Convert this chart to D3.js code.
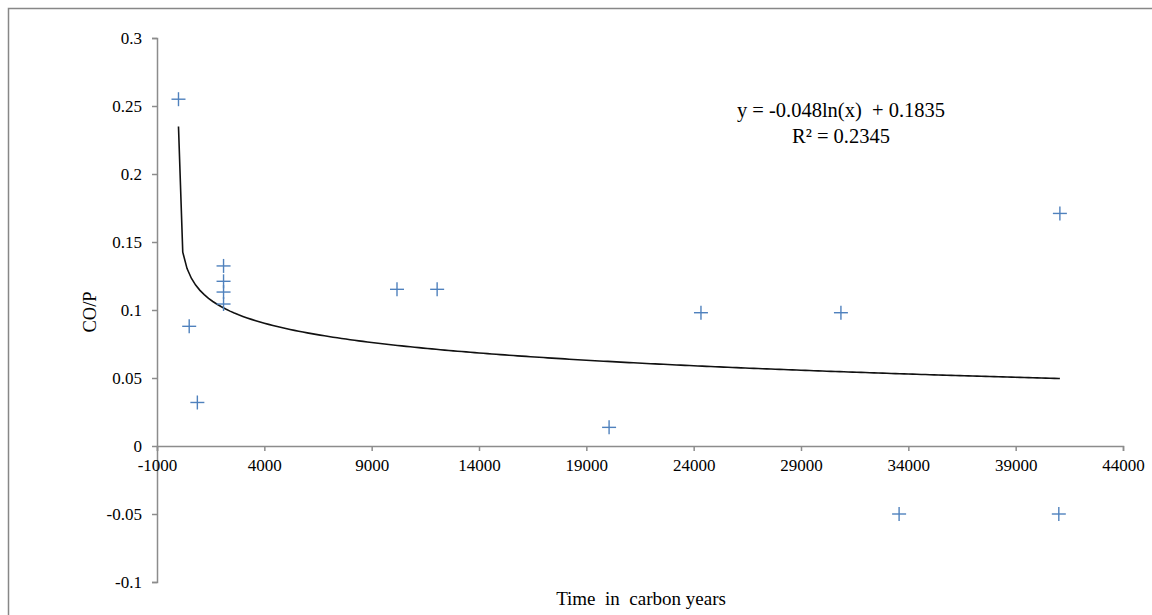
<!DOCTYPE html>
<html>
<head>
<meta charset="utf-8">
<script src="https://cdn.jsdelivr.net/npm/d3@7"></script>
<style>
  html, body { margin: 0; padding: 0; background: #fff; }
  svg { display: block; }
  text { font-family: "Liberation Serif", "Times New Roman", serif; fill: #000; }
</style>
</head>
<body>
<svg id="chart" width="1152" height="615"></svg>
<script>
// Sample ages (carbon years) and measured CO/P ratios
const ageYears = [1, 500, 880, 2100, 2100, 2100, 2100, 10180, 12050, 20060, 24340, 30860, 33570, 41060, 41010];
const coRatio  = [0.255, 0.088, 0.032, 0.1324, 0.1211, 0.1132, 0.1044, 0.1152, 0.1152, 0.0137, 0.098, 0.098, -0.05, 0.171, -0.05];

const xTicks = [-1000, 4000, 9000, 14000, 19000, 24000, 29000, 34000, 39000, 44000];
const yTicks = [0.3, 0.25, 0.2, 0.15, 0.1, 0.05, 0, -0.05, -0.1];

const equationLines = ["y = -0.048ln(x)  + 0.1835", "R\u00B2 = 0.2345"];
const xTitle = "Time  in  carbon years";
const yTitle = "CO/P";

const svg = d3.select("#chart");

// chart-area frame
svg.append("rect")
  .attr("x", 8.5).attr("y", 8.5)
  .attr("width", 1200).attr("height", 700)
  .attr("fill", "none")
  .attr("stroke", "#878787")
  .attr("stroke-width", 1.5);

const x = d3.scaleLinear().domain([-1000, 44000]).range([157, 1123]);
const y = d3.scaleLinear().domain([-0.1, 0.3]).range([582, 38]);

const axisColor = "#8c8c8c";

// y axis
const yAxis = svg.append("g")
  .attr("transform", `translate(${x(-1000)},0)`)
  .call(d3.axisLeft(y).tickValues(yTicks).tickSize(5).tickPadding(10)
        .tickFormat(d => String(+d.toFixed(2))));
yAxis.selectAll("text").attr("font-size", 17).attr("font-family", "Liberation Serif");

// x axis sits on y = 0
const xAxis = svg.append("g")
  .attr("transform", `translate(0,${y(0)})`)
  .call(d3.axisBottom(x).tickValues(xTicks).tickSize(5).tickPadding(8)
        .tickFormat(d => String(d)));
xAxis.selectAll("text").attr("font-size", 17).attr("font-family", "Liberation Serif");

[yAxis, xAxis].forEach(g => {
  g.select(".domain").attr("stroke", axisColor).attr("stroke-width", 1.5);
  g.selectAll(".tick line").attr("stroke", axisColor).attr("stroke-width", 1.5);
});

// logarithmic least-squares trendline through the samples
const lx = ageYears.map(v => Math.log(v));
const mx = d3.mean(lx), my = d3.mean(coRatio);
const sxy = d3.sum(lx, (v, i) => (v - mx) * (coRatio[i] - my));
const sxx = d3.sum(lx, v => (v - mx) * (v - mx));
const slope = sxy / sxx;
const intercept = my - slope * mx;

const xMin = d3.min(ageYears), xMax = d3.max(ageYears);
const logScale = d3.scaleLog().domain([xMin, xMax]);
const curvePts = logScale.ticks(200).filter(v => v >= xMin && v <= xMax);
curvePts.unshift(xMin);
curvePts.push(xMax);
const uniq = Array.from(new Set(curvePts)).sort((a, b) => a - b);

svg.append("path")
  .datum(uniq)
  .attr("fill", "none")
  .attr("stroke", "#111")
  .attr("stroke-width", 1.6)
  .attr("d", d3.line()
    .x(d => x(d))
    .y(d => y(intercept + slope * Math.log(d))));

// plus markers
const half = 7;
const pts = svg.append("g").selectAll("g")
  .data(ageYears.map((a, i) => ({ a, c: coRatio[i] })))
  .join("g")
  .attr("transform", d => `translate(${x(d.a)},${y(d.c)})`);
pts.append("line").attr("x1", -half).attr("x2", half).attr("y1", 0).attr("y2", 0);
pts.append("line").attr("x1", 0).attr("x2", 0).attr("y1", -half).attr("y2", half);
pts.selectAll("line").attr("stroke", "#4f81bd").attr("stroke-width", 1.4);

// trendline equation
const eq = svg.append("text")
  .attr("x", 841).attr("y", 117)
  .attr("text-anchor", "middle")
  .attr("font-size", 20.5)
  .style("white-space", "pre");
eq.selectAll("tspan")
  .data(equationLines)
  .join("tspan")
  .attr("x", 841)
  .attr("dy", (d, i) => i === 0 ? 0 : 26)
  .text(d => d);

// axis titles
svg.append("text")
  .attr("x", 641).attr("y", 605)
  .attr("text-anchor", "middle")
  .attr("font-size", 19)
  .style("white-space", "pre")
  .text(xTitle);

svg.append("text")
  .attr("transform", `translate(96,312) rotate(-90)`)
  .attr("text-anchor", "middle")
  .attr("font-size", 18.5)
  .text(yTitle);
</script>
</body>
</html>
